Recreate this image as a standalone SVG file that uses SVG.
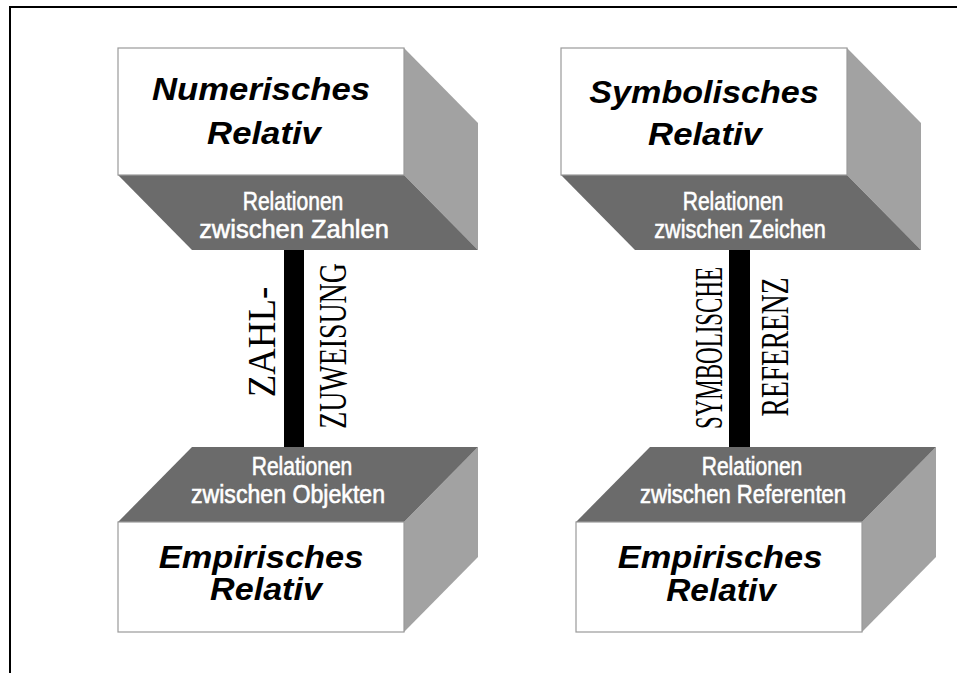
<svg xmlns="http://www.w3.org/2000/svg" width="957" height="673" viewBox="0 0 957 673">
<style>
.front{fill:#ffffff;stroke:#9a9a9a;stroke-width:1.2}
.side{fill:#a2a2a2}
.face{fill:#6b6b6b}
.title{font-family:"Liberation Sans",Arial,sans-serif;font-weight:bold;font-style:italic;font-size:31px;fill:#000;text-anchor:middle}
.rel{font-family:"Liberation Sans",Arial,sans-serif;font-size:26px;fill:#fff;stroke:#fff;stroke-width:0.6;text-anchor:middle}
.vert{font-family:"Liberation Serif","Times New Roman",serif;font-size:41px;fill:#000;text-anchor:middle}
.bar{fill:#000}
</style>
<rect width="957" height="673" fill="#fff"/>
<path d="M10,673 V7 H957" fill="none" stroke="#000" stroke-width="2"/>

<g id="numerisches-relativ">
<polygon class="side" points="404,48 478,123 478,250 404,175"/>
<polygon class="face" points="118,175 404,175 478,250 192,250"/>
<rect class="front" x="118" y="48" width="286" height="127"/>
<text class="title" transform="translate(261,100) scale(1.12,1)">Numerisches</text>
<text class="title" transform="translate(264,144) scale(1.12,1)">Relativ</text>
<text class="rel" transform="translate(293,210) scale(0.81,1)">Relationen</text>
<text class="rel" transform="translate(294,238) scale(0.98,1)">zwischen Zahlen</text>
</g>

<g id="symbolisches-relativ">
<polygon class="side" points="847,48 921,123 921,250 847,175"/>
<polygon class="face" points="561,175 847,175 921,250 635,250"/>
<rect class="front" x="561" y="48" width="286" height="127"/>
<text class="title" transform="translate(704,103) scale(1.1,1)">Symbolisches</text>
<text class="title" transform="translate(705,145) scale(1.12,1)">Relativ</text>
<text class="rel" transform="translate(733,210) scale(0.81,1)">Relationen</text>
<text class="rel" transform="translate(740,238) scale(0.83,1)">zwischen Zeichen</text>
</g>

<g id="empirisches-relativ-1">
<polygon class="side" points="404,522 478,447 478,557 404,632"/>
<polygon class="face" points="118,522 192,447 478,447 404,522"/>
<rect class="front" x="118" y="522" width="286" height="110"/>
<text class="title" transform="translate(261,568) scale(1.11,1)">Empirisches</text>
<text class="title" transform="translate(266,600) scale(1.1,1)">Relativ</text>
<text class="rel" transform="translate(302,475) scale(0.81,1)">Relationen</text>
<text class="rel" transform="translate(288,503) scale(0.89,1)">zwischen Objekten</text>
</g>

<g id="empirisches-relativ-2">
<polygon class="side" points="862,522 936,447 936,557 862,632"/>
<polygon class="face" points="576,522 650,447 936,447 862,522"/>
<rect class="front" x="576" y="522" width="286" height="110"/>
<text class="title" transform="translate(720,568) scale(1.11,1)">Empirisches</text>
<text class="title" transform="translate(721,601) scale(1.08,1)">Relativ</text>
<text class="rel" transform="translate(752,475) scale(0.81,1)">Relationen</text>
<text class="rel" transform="translate(743,503) scale(0.85,1)">zwischen Referenten</text>
</g>

<g id="connectors">
<rect class="bar" x="284" y="250" width="20" height="197"/>
<rect class="bar" x="729" y="250" width="21" height="197"/>
<text class="vert" transform="translate(275,342) rotate(-90) scale(0.9,1)">ZAHL-</text>
<text class="vert" transform="translate(346,346) rotate(-90) scale(0.68,1)">ZUWEISUNG</text>
<text class="vert" transform="translate(722,348) rotate(-90) scale(0.56,1)">SYMBOLISCHE</text>
<text class="vert" transform="translate(788,347) rotate(-90) scale(0.67,1)">REFERENZ</text>
</g>
</svg>
